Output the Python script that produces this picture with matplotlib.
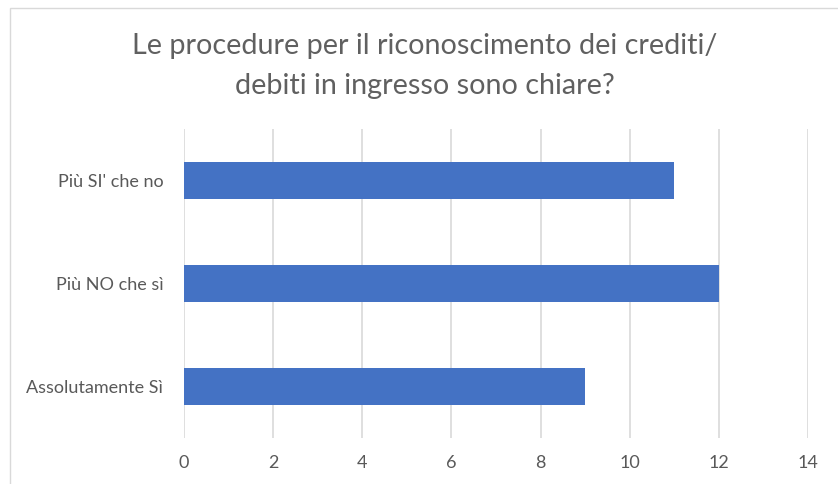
import matplotlib
matplotlib.use("Agg")
import matplotlib.pyplot as plt
from matplotlib.patches import Rectangle

categories = ["Assolutamente Sì", "Più NO che sì", "Più SI' che no"]
values = [9, 12, 11]
xticks = [0, 2, 4, 6, 8, 10, 12, 14]
title = "Le procedure per il riconoscimento dei crediti/\ndebiti in ingresso sono chiare?"

W, H = 838, 484
fig = plt.figure(figsize=(W / 100, H / 100), dpi=100)
plt.rcParams['font.family'] = ['Lato', 'DejaVu Sans']

# chart border
fig.patches.append(Rectangle((10 / W, -0.1), 1.2, (H - 8) / H + 0.1,
                             transform=fig.transFigure, fill=False,
                             edgecolor="#d9d9d9", linewidth=1))

ax = fig.add_axes([184 / W, 1 - 438 / H, (808 - 184) / W, (438 - 129) / H])
ax.barh(range(len(categories)), values, height=0.36, color="#4472C4", zorder=3)
ax.set_xlim(0, 14)
ax.set_ylim(-0.5, 2.5)
ax.set_xticks(xticks)
ax.set_xticklabels([str(t) for t in xticks])
ax.set_yticks(range(len(categories)))
ax.set_yticklabels(categories)
ax.grid(axis="x", color="#d9d9d9", linewidth=1.2, zorder=0)
for s in ax.spines.values():
    s.set_visible(False)
ax.tick_params(axis="both", length=0, colors="#595959", labelsize=13)
ax.tick_params(axis="x", pad=12)
ax.tick_params(axis="y", pad=15)

fig.text(425 / W, 1 - 66 / H, title, ha="center", va="center",
         fontsize=20.7, color="#606060", linespacing=1.65, fontweight="normal")

fig.savefig("out.png", dpi=100)
